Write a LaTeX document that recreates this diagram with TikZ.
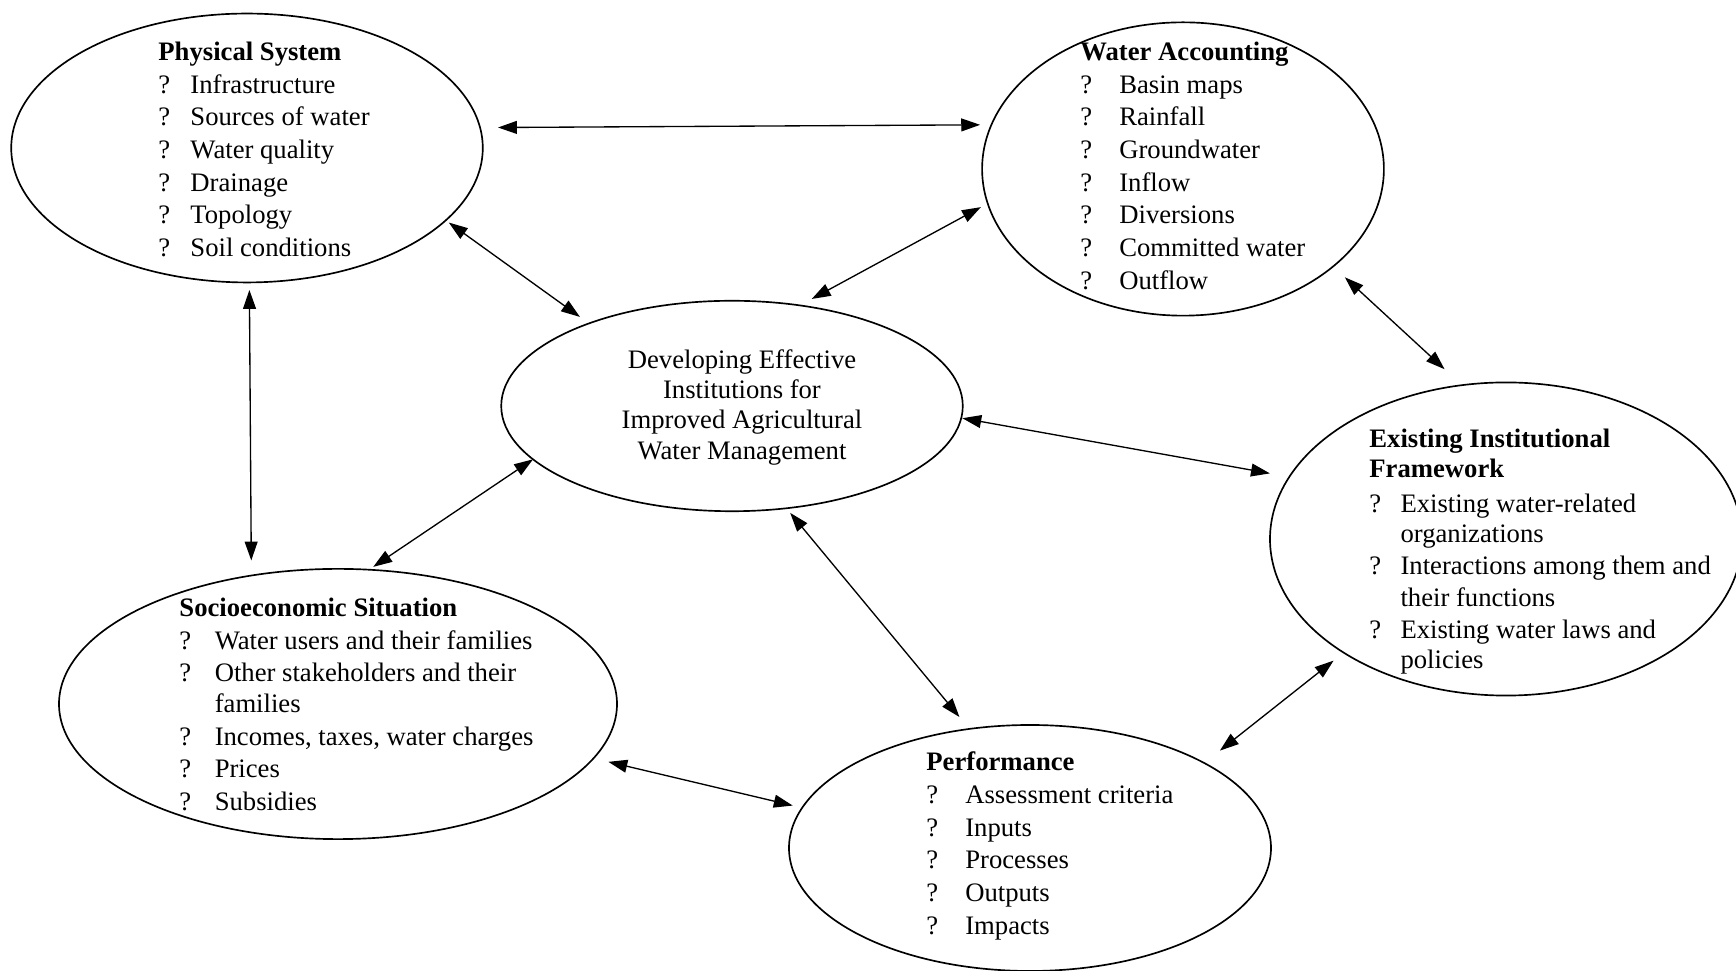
\documentclass[tikz,border=0pt]{standalone}
\usepackage{fontspec}
\setmainfont{Liberation Serif}
\usetikzlibrary{shapes.geometric,arrows.meta}
\newlength\qw
\newcommand\qi{\makebox[\qw][l]{\hspace{0pt}?}}
\begin{document}
\begin{tikzpicture}[x=0.45pt,y=-0.45pt,
  oval/.style={draw, ellipse, line width=0.75pt, inner sep=0pt, outer sep=0pt},
  listtext/.style={anchor=base west, inner sep=0pt, font=\fontsize{12}{14.7}\selectfont},
  biarrow/.style={{Triangle[length=8.5pt,width=5.8pt]}-{Triangle[length=8.5pt,width=5.8pt]}, line width=0.6pt}]
\useasboundingbox (0,0) rectangle (1736,971);

% ellipses
\node[oval, minimum width=212.2pt, minimum height=121.0pt] (phys) at (247,148) {};
\node[oval, minimum width=180.8pt, minimum height=132.0pt] (water) at (1183,169) {};
\node[oval, minimum width=207.7pt, minimum height=94.7pt] (core) at (732,406) {};
\node[oval, minimum width=212.4pt, minimum height=140.9pt] (inst) at (1506,539) {};
\node[oval, minimum width=251.1pt, minimum height=121.6pt] (socio) at (338,704) {};
\node[oval, minimum width=216.9pt, minimum height=110.7pt] (perf) at (1030,848) {};

% texts
\node[listtext] (physT) at (158,60.5) {\setlength\qw{14.4pt}%
\begin{tabular}[t]{@{}l@{}l@{}}
\multicolumn{2}{@{}l@{}}{\textbf{Physical System}}\\
\qi & Infrastructure\\
\qi & Sources of water\\
\qi & Water quality\\
\qi & Drainage\\
\qi & Topology\\
\qi & Soil conditions
\end{tabular}};

\node[listtext] (waterT) at (1080,60.5) {\setlength\qw{17.5pt}%
\begin{tabular}[t]{@{}l@{}l@{}}
\multicolumn{2}{@{}l@{}}{\textbf{Water Accounting}}\\
\qi & Basin maps\\
\qi & Rainfall\\
\qi & Groundwater\\
\qi & Inflow\\
\qi & Diversions\\
\qi & Committed water\\
\qi & Outflow
\end{tabular}};

\node[anchor=base, inner sep=0pt, font=\fontsize{12}{13.6}\selectfont] (coreT) at (742,368.5) {%
\begin{tabular}[t]{@{}c@{}}
Developing Effective\\
Institutions for\\
Improved Agricultural\\
Water Management
\end{tabular}};

\node[listtext, font=\fontsize{12}{14.4}\selectfont] (instT) at (1369,448) {\setlength\qw{14pt}%
\begin{tabular}[t]{@{}l@{}l@{}}
\multicolumn{2}{@{}l@{}}{\textbf{Existing Institutional}}\\[-0.9pt]
\multicolumn{2}{@{}l@{}}{\textbf{Framework}}\\[1pt]
\qi & Existing water-related\\[-0.9pt]
 & organizations\\
\qi & Interactions among them and\\
 & their functions\\
\qi & Existing water laws and\\[-0.9pt]
 & policies
\end{tabular}};

\node[listtext, font=\fontsize{12}{14.6}\selectfont] (socioT) at (179,617) {\setlength\qw{15.9pt}%
\begin{tabular}[t]{@{}l@{}l@{}}
\multicolumn{2}{@{}l@{}}{\textbf{Socioeconomic Situation}}\\
\qi & Water users and their families\\
\qi & Other stakeholders and their\\[-0.7pt]
 & families\\
\qi & Incomes, taxes, water charges\\
\qi & Prices\\
\qi & Subsidies
\end{tabular}};

\node[listtext] (perfT) at (926,771) {\setlength\qw{17.5pt}%
\begin{tabular}[t]{@{}l@{}l@{}}
\multicolumn{2}{@{}l@{}}{\textbf{Performance}}\\
\qi & Assessment criteria\\
\qi & Inputs\\
\qi & Processes\\
\qi & Outputs\\
\qi & Impacts
\end{tabular}};

% two-way links
\draw[biarrow, shorten <=8.1pt, shorten >=5.1pt] (phys.5.15) -- (water.167.75);
\draw[biarrow, shorten <=1.7pt, shorten >=5pt] (phys.-20.9) -- (core.150.4);
\draw[biarrow, shorten <=3.5pt, shorten >=6.1pt] (water.190) -- (core.56.9);
\draw[biarrow, shorten <=7.2pt, shorten >=10.6pt] (water.327.1) -- (inst.106.6);
\draw[biarrow, shorten <=0.5pt, shorten >=8.9pt] (core.357.6) -- (inst.164);
\draw[biarrow, shorten <=3.4pt, shorten >=6.8pt] (phys.-89.15) -- (socio.124.7);
\draw[biarrow, shorten <=0pt, shorten >=2.3pt] (core.195.2) -- (socio.77.8);
\draw[biarrow, shorten <=2.7pt, shorten >=7pt] (core.298.7) -- (perf.117.3);
\draw[biarrow, shorten <=6.9pt, shorten >=4.4pt] (socio.348.3) -- (perf.170.1);
\draw[biarrow, shorten <=5.8pt, shorten >=9pt] (inst.215.5) -- (perf.26.1);
\end{tikzpicture}
\end{document}
